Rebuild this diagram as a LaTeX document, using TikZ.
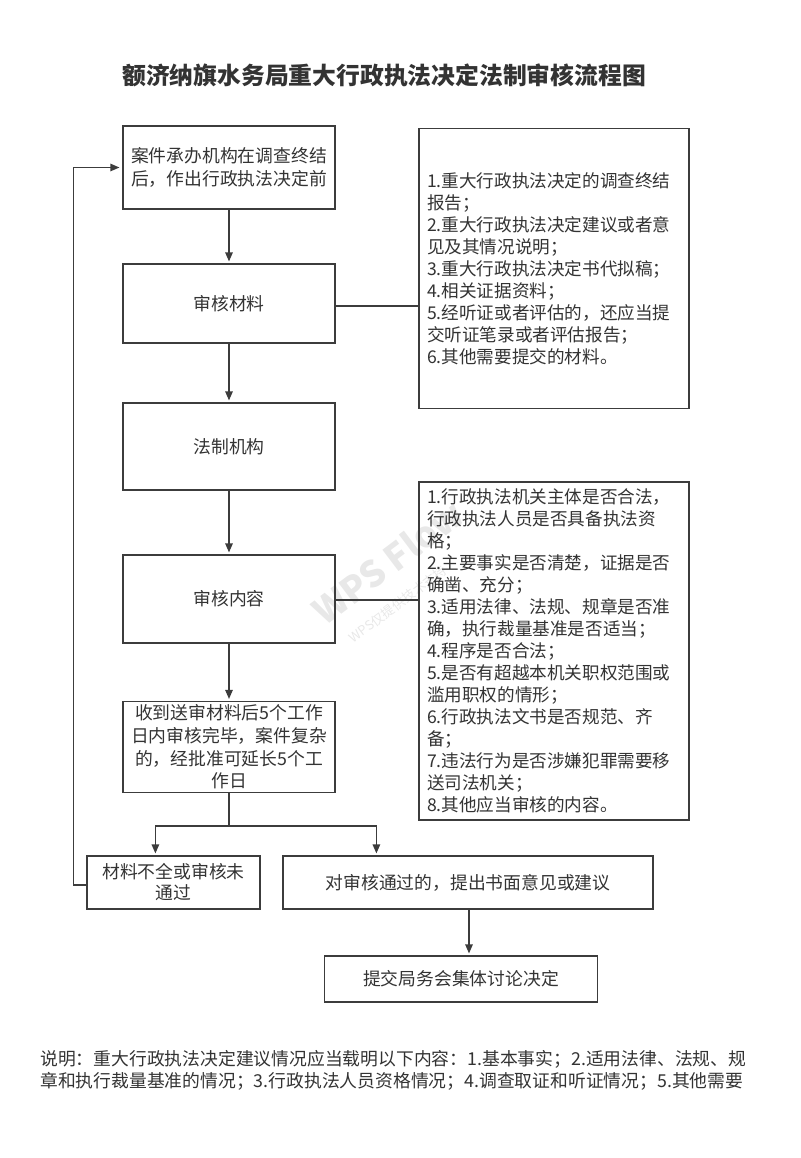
\documentclass[tikz,border=0pt]{standalone}
\usepackage{fontspec}
\setmainfont{Noto Sans CJK SC}
\usetikzlibrary{arrows.meta,calc}
\definecolor{ln}{HTML}{3C3C3C}
\definecolor{tx}{HTML}{333333}
\definecolor{wm}{HTML}{E8E8E8}
\tikzset{
  box/.style={draw=ln, line width=1.2pt, text=tx, font=\fontsize{17.8}{22.5}\selectfont, align=center, inner sep=0pt},
  listbox/.style={draw=ln, line width=1.2pt, text=tx, font=\fontsize{17.6}{22}\selectfont, align=left, text width=254pt, inner xsep=8pt, inner ysep=0pt},
  conn/.style={draw=ln, line width=1.2pt},
  arr/.style={conn, -{Triangle[length=9pt,width=7.5pt]}, shorten >=2pt}
}
\begin{document}
\begin{tikzpicture}[x=1pt,y=-1pt]
\useasboundingbox (0,0) rectangle (800,1158);
% watermark
\node[text=wm, font=\fontsize{36}{36}\selectfont\bfseries, rotate=37] (wm1) at (388,562) {WPS Flow};
\node[text=wm, font=\fontsize{13}{13}\selectfont, rotate=37] (wm2) at (398,604) {WPS仅提供技术支持};
% title
\node[text=tx, font=\fontsize{23.8}{28}\selectfont\bfseries] (title) at (384,75) {额济纳旗水务局重大行政执法决定法制审核流程图};
% main column
\node[box, minimum width=212pt, minimum height=83pt] (b1) at (229,167.5) {案件承办机构在调查终结\\后，作出行政执法决定前};
\node[box, minimum width=212pt, minimum height=79pt] (b2) at (229,303.5) {审核材料};
\node[box, minimum width=212pt, minimum height=87pt] (b3) at (229,446.5) {法制机构};
\node[box, minimum width=212pt, minimum height=88pt] (b4) at (229,599) {审核内容};
\node[box, minimum width=212pt, minimum height=91pt, font=\fontsize{17.8}{22.7}\selectfont] (b5) at (229,747) {收到送审材料后5个工作\\日内审核完毕，案件复杂\\的，经批准可延长5个工\\作日};
\node[box, minimum width=173pt, minimum height=53pt, font=\fontsize{17.8}{21}\selectfont] (b6) at (173.5,882.5) {材料不全或审核未\\通过};
\node[box, minimum width=370pt, minimum height=53pt] (b7) at (468,882.5) {对审核通过的，提出书面意见或建议};
\node[box, minimum width=273pt, minimum height=46pt] (b8) at (461,979) {提交局务会集体讨论决定};
% right lists
\node[listbox, minimum height=280pt] (la) at (554,268.5) {1.重大行政执法决定的调查终结\\报告；\\2.重大行政执法决定建议或者意\\见及其情况说明；\\3.重大行政执法决定书代拟稿；\\4.相关证据资料；\\5.经听证或者评估的，还应当提\\交听证笔录或者评估报告；\\6.其他需要提交的材料。};
\node[listbox, minimum height=338pt] (lb) at (554,651) {1.行政执法机关主体是否合法，\\行政执法人员是否具备执法资\\格；\\2.主要事实是否清楚，证据是否\\确凿、充分；\\3.适用法律、法规、规章是否准\\确，执行裁量基准是否适当；\\4.程序是否合法；\\5.是否有超越本机关职权范围或\\滥用职权的情形；\\6.行政执法文书是否规范、齐\\备；\\7.违法行为是否涉嫌犯罪需要移\\送司法机关；\\8.其他应当审核的内容。};
% connectors
\draw[arr] (b1) -- (b2);
\draw[arr] (b2) -- (b3);
\draw[arr] (b3) -- (b4);
\draw[arr] (b4) -- (b5);
\draw[conn] ([yshift=-2.5pt]b2.east) -- ([yshift=-2.5pt]b2.east -| la.west);
\draw[conn] ([yshift=-1pt]b4.east) -- ([yshift=-1pt]b4.east -| lb.west);
\coordinate (split) at (229,826);
\draw[conn] (b5.south) -- (split);
\draw[arr] (split) -| ([xshift=69pt]b6.north west);
\draw[arr] (split) -| ([xshift=94pt]b7.north west);
\draw[arr] ([xshift=1pt]b7.south) -- ([xshift=1pt]b7.south |- b8.north);
\draw[arr, shorten >=3pt] ([yshift=-2.5pt]b6.west) -- ++(-13,0) |- (b1.west);
% note
\node[text=tx, font=\fontsize{17.8}{22}\selectfont, align=left, anchor=west, inner sep=0pt] (note) at (40,1070) {说明：重大行政执法决定建议情况应当载明以下内容：1.基本事实；2.适用法律、法规、规\\章和执行裁量基准的情况；3.行政执法人员资格情况；4.调查取证和听证情况；5.其他需要};
\end{tikzpicture}
\end{document}
